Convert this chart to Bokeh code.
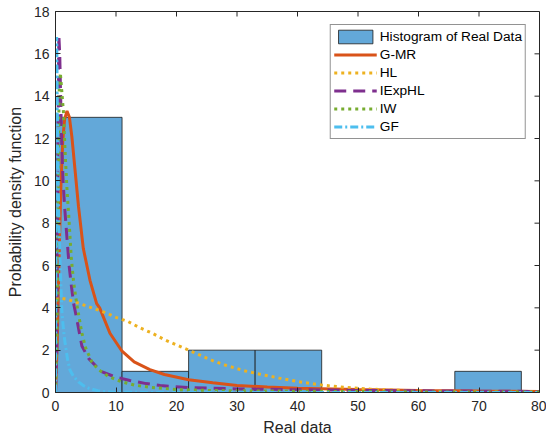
from bokeh.plotting import figure
from bokeh.models import FixedTicker, Range1d
from bokeh.embed import file_html
from bokeh.resources import INLINE

# Histogram of real data
bin_edges = [0, 11, 22, 33, 44, 55, 66, 77]
bin_counts = [13, 1, 2, 2, 0, 0, 1]

# Fitted densities
gmr_x = [0, 0.3, 0.6, 0.9, 1.2, 1.5, 1.9, 2.3, 2.7, 3.2, 3.8, 4.6, 5.7, 6.8, 7.3, 9.0, 11.0, 13.0, 15.6, 18.0, 22.0, 26.0, 30.0, 35, 40, 50, 60, 70, 80]
gmr_y = [0, 2.5, 6.5, 9.8, 11.9, 12.9, 13.3, 13.0, 12.1, 10.6, 8.8, 6.8, 5.3, 4.2, 4.0, 2.8, 1.95, 1.45, 1.08, 0.85, 0.6, 0.46, 0.33, 0.26, 0.2, 0.14, 0.1, 0.07, 0.05]

hl_x = [0, 1, 2, 3, 4.5, 6, 8, 10, 12, 14, 16, 18, 20, 22, 24, 26, 28, 31, 34, 37, 40, 44, 48, 52, 56, 60, 65, 70, 80]
hl_y = [4.45, 4.45, 4.4, 4.3, 4.15, 4.0, 3.8, 3.55, 3.35, 3.05, 2.8, 2.5, 2.25, 2.0, 1.75, 1.5, 1.3, 1.04, 0.85, 0.68, 0.52, 0.35, 0.24, 0.16, 0.11, 0.07, 0.04, 0.025, 0.01]

iexphl_x = [0, 0.2, 0.4, 0.55, 0.7, 0.85, 1.04, 1.25, 1.5, 1.87, 2.25, 2.6, 3.0, 3.5, 4.36, 5.5, 7.5, 10, 12.3, 15, 17.3, 22, 30, 40, 50, 60, 80]
iexphl_y = [0, 2, 12, 16.9, 16.0, 14.0, 11.6, 10.0, 8.8, 7.4, 6.0, 5.1, 4.2, 3.5, 2.2, 1.6, 1.0, 0.72, 0.57, 0.42, 0.33, 0.23, 0.17, 0.13, 0.1, 0.08, 0.05]

iw_x = [0, 0.25, 0.45, 0.6, 0.8, 1.05, 1.3, 1.6, 1.9, 2.2, 2.6, 3.0, 3.5, 4.36, 5.0, 6.0, 7.0, 8.8, 11, 13, 15.6, 20, 25, 30, 40, 60, 80]
iw_y = [0, 3, 10, 14.2, 15.1, 14.2, 13.3, 11.3, 9.6, 8.3, 6.4, 5.2, 4.2, 2.8, 2.1, 1.45, 1.1, 0.75, 0.5, 0.35, 0.25, 0.14, 0.1, 0.08, 0.06, 0.03, 0.02]

gf_x = [0, 0.05, 0.1, 0.15, 0.2, 0.3, 0.4, 0.55, 0.77, 1.04, 1.3, 1.6, 2.0, 2.4, 3.0, 3.8, 4.6, 5.5, 7, 8.5, 10, 20, 80]
gf_y = [0, 5, 11, 15.5, 16.8, 13.5, 10.5, 8.3, 6.0, 3.9, 3.0, 2.3, 1.55, 1.05, 0.75, 0.5, 0.33, 0.2, 0.08, 0.03, 0.01, 0, 0]

x_ticks = [0, 10, 20, 30, 40, 50, 60, 70, 80]
y_ticks = [0, 2, 4, 6, 8, 10, 12, 14, 16, 18]

FONT = "Liberation Sans"
AX = "#262626"

p = figure(width=546, height=444, x_range=Range1d(0, 80), y_range=Range1d(0, 18),
           output_backend="svg", toolbar_location=None,
           min_border_left=55, min_border_right=7, min_border_top=11, min_border_bottom=52)
p.grid.visible = False
p.outline_line_color = AX
p.outline_line_width = 1
p.background_fill_color = "white"

p.quad(left=bin_edges[:-1], right=bin_edges[1:], bottom=0, top=bin_counts,
       fill_color="#63A8D9", line_color="#1a1a1a", line_width=0.8,
       legend_label="Histogram of Real Data")

p.line(gmr_x, gmr_y, line_color="#D95319", line_width=3, legend_label="G-MR")
p.line(hl_x, hl_y, line_color="#EDB120", line_width=3, line_dash="3 4", legend_label="HL")
p.line(iexphl_x, iexphl_y, line_color="#7E2F8E", line_width=3, line_dash="12 7", legend_label="IExpHL")
p.line(iw_x, iw_y, line_color="#77AC30", line_width=3, line_dash="3 4", legend_label="IW")
p.line(gf_x, gf_y, line_color="#4DBEEE", line_width=3, line_dash="8 3 2 3", legend_label="GF")

# inward ticks on the top and right edges of the box
p.ray(x=x_ticks, y=18, length=5, length_units="screen", angle=-90, angle_units="deg",
      line_color=AX, line_width=1)
p.ray(x=80, y=y_ticks, length=5, length_units="screen", angle=180, angle_units="deg",
      line_color=AX, line_width=1)

for ax, ticks in ((p.xaxis[0], x_ticks), (p.yaxis[0], y_ticks)):
    ax.ticker = FixedTicker(ticks=ticks)
    ax.minor_tick_line_color = None
    ax.major_tick_in = 5
    ax.major_tick_out = 0
    ax.axis_line_color = AX
    ax.major_tick_line_color = AX
    ax.major_label_text_font = FONT
    ax.major_label_text_font_size = "14px"
    ax.major_label_text_color = AX
    ax.axis_label_text_font = FONT
    ax.axis_label_text_font_size = "16px"
    ax.axis_label_text_font_style = "normal"
    ax.axis_label_text_color = AX

p.xaxis[0].axis_label = "Real data"
p.yaxis[0].axis_label = "Probability density function"
p.xaxis[0].major_label_standoff = 8
p.xaxis[0].axis_label_standoff = 5
p.yaxis[0].major_label_standoff = 6
p.yaxis[0].axis_label_standoff = 7

lg = p.legend[0]
lg.location = "top_right"
lg.margin = 13
lg.padding = 3
lg.spacing = 1
lg.glyph_width = 43
lg.glyph_height = 17
lg.label_standoff = 3
lg.label_text_font = FONT
lg.label_text_font_size = "13.7px"
lg.label_text_color = "#000000"
lg.label_height = 17
lg.border_line_color = AX
lg.border_line_width = 1
lg.background_fill_alpha = 1

open("out.html", "w").write(file_html(p, INLINE))
